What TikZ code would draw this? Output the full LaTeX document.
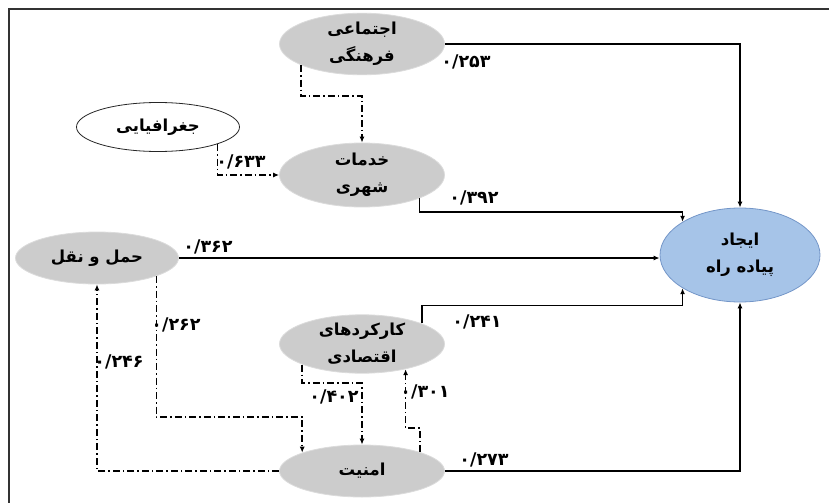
\documentclass[tikz,border=0pt]{standalone}
\usepackage{fontspec}
\newfontfamily\farsi[Script=Arabic]{DejaVu Sans}
\TeXXeTstate=1
\usetikzlibrary{shapes.geometric, arrows.meta}

\definecolor{goalfill}{RGB}{166,196,232}
\definecolor{goalline}{RGB}{116,150,200}

\begin{document}
\begin{tikzpicture}[
    x=1pt, y=-1pt,
    every node/.style = {font=\farsi\bfseries\fontsize{16.5}{27}\selectfont},
    factor/.style   = {ellipse, draw=black!14, fill=black!20, line width=0.8pt,
                       minimum width=165pt, minimum height=54pt, inner sep=0pt,
                       align=center},
    plain/.style    = {ellipse, draw=black!85, fill=white, line width=0.8pt,
                       minimum width=163pt, minimum height=49pt, inner sep=0pt},
    goal/.style     = {ellipse, draw=goalline, fill=goalfill, line width=0.8pt,
                       minimum width=160pt, minimum height=94pt, inner sep=0pt,
                       align=center},
    coef/.style     = {inner sep=1pt, font=\farsi\bfseries\fontsize{17.5}{20}\selectfont},
    frameline/.style   = {draw=black!80, line width=1.5pt},
    solidarrow/.style  = {-{Latex[length=6pt,width=5pt]}, line width=1.7pt},
    dashedarrow/.style = {solidarrow, dash pattern=on 7pt off 3pt on 1.5pt off 3pt}
  ]
  \useasboundingbox (0,0) rectangle (829,503);
  \draw[frameline] (829,9) -- (9,9) -- (9,503);

  % factors
  \node[factor, minimum height=55pt] (ejtemai) at (362,44)
       {\beginR اجتماعی\endR\\\beginR فرهنگی\endR};
  \node[plain] (joghrafia) at (158,127) {\beginR جغرافیایی\endR};
  \node[factor, minimum height=64pt] (khadamat) at (362,175)
       {\beginR خدمات\endR\\\beginR شهری\endR};
  \node[factor, minimum height=52pt, minimum width=163pt] (haml) at (97,258)
       {\beginR حمل و نقل\endR};
  \node[factor] (karkard) at (362,344)
       {\beginR کارکردهای\endR\\\beginR اقتصادی\endR};
  \node[factor, minimum height=52pt] (amniat) at (362,471) {\beginR امنیت\endR};
  \node[goal] (ejad) at (740,255) {\beginR ایجاد\endR\\\beginR پیاده راه\endR};

  % coefficients
  \node[coef] (c253) at (466,62)  {۰/۲۵۳};
  \node[coef] (c633) at (241,162) {۰/۶۳۳};
  \node[coef] (c392) at (474,198) {۰/۳۹۲};
  \node[coef] (c362) at (208,247) {۰/۳۶۲};
  \node[coef] (c262) at (176,325) {۰/۲۶۲};
  \node[coef] (c246) at (119,362) {۰/۲۴۶};
  \node[coef] (c241) at (477,322) {۰/۲۴۱};
  \node[coef] (c402) at (334,397) {۰/۴۰۲};
  \node[coef] (c301) at (425,392) {۰/۳۰۱};
  \node[coef] (c273) at (484,460) {۰/۲۷۳};

  % arrows into the goal
  \draw[solidarrow] (ejtemai.east) -| (ejad.north);
  \draw[solidarrow] (khadamat.-22) -- ++(0,14) -| (ejad.150);
  \draw[solidarrow] (haml.east) -- (haml.east -| ejad.west);
  \draw[solidarrow] (karkard.19) -- ++(0,-18) -| (ejad.-150);
  \draw[solidarrow] (amniat.east) -| (ejad.south);

  % arrows between factors
  \draw[dashedarrow] (ejtemai.199) -- ++(0,31) -| (khadamat.north);
  \draw[dashedarrow] (joghrafia.-16) |- (khadamat.west);
  \draw[dashedarrow] (haml.-17) -- ++(0,141) -| (amniat.163);
  \draw[dashedarrow] (amniat.west) -| (haml.south);
  \draw[dashedarrow] (karkard.199) -- ++(0,18.5) -| (amniat.north);
  \draw[dashedarrow] (amniat.18) -- ++(0,-24) -| (karkard.-30);

\end{tikzpicture}
\end{document}
